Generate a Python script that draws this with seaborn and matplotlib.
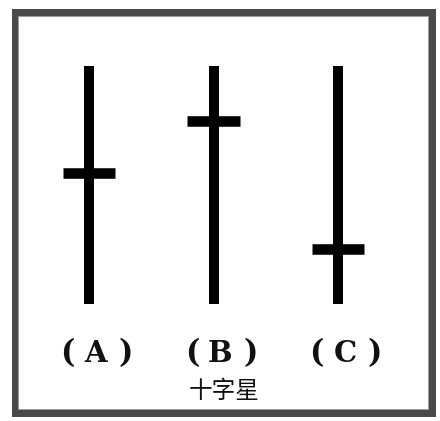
import matplotlib
matplotlib.use("Agg")
import matplotlib.pyplot as plt
import matplotlib.transforms as mtransforms
from matplotlib.patches import Rectangle
import seaborn as sns
import pandas as pd

# ---- data ----
letters = ['A', 'B', 'C']
labels = ['（A）', '（B）', '（C）']
high = [10, 10, 10]
low = [0, 0, 0]
cross = [5.5, 7.7, 2.3]
caption = '十字星'

df = pd.DataFrame({'letter': letters, 'label': labels, 'high': high,
                   'low': low, 'cross': cross})
df['pos'] = range(len(df))

sns.set_theme(style="white")
plt.rcParams['font.family'] = ['Noto Sans CJK SC', 'DejaVu Sans']

W, H = 440, 421
fig = plt.figure(figsize=(W / 100, H / 100), dpi=100)
fig.patch.set_facecolor('white')

ax = fig.add_axes([26.75 / W, (H - 304) / H, 373.5 / W, 238 / H])
ax.set_xlim(-0.5, 2.5)
ax.set_ylim(0, 10)
ax.axis('off')

# candle shadows
ax.vlines(df['pos'], df['low'], df['high'], colors='black', linewidth=7.2,
          capstyle='butt')
# doji crosses
ax.hlines(df['cross'], df['pos'] - 0.209, df['pos'] + 0.209, colors='black',
          linewidth=7.6, capstyle='butt')

# category labels: （ letter ）
trans = mtransforms.blended_transform_factory(ax.transData, fig.transFigure)
ylab = 1 - 353 / H
for p, lab in zip(df['pos'], df['label']):
    letter = lab[1:-1]
    ax.text(p - 0.173, ylab - 0.002, '(', transform=trans, ha='center',
            va='center', fontsize=22, fontweight='bold',
            family=['DejaVu Serif'], color='#111111')
    ax.text(p + 0.056, ylab, letter, transform=trans, ha='center',
            va='center', fontsize=21, fontweight='bold',
            family=['DejaVu Serif'], color='#111111')
    ax.text(p + 0.297, ylab - 0.002, ')', transform=trans, ha='center',
            va='center', fontsize=22, fontweight='bold',
            family=['DejaVu Serif'], color='#111111')

fig.text(224 / W, 1 - 391 / H, caption, ha='center', va='center',
         fontsize=17, color='#111111', fontweight='light',
         family=['Noto Sans CJK SC', 'DejaVu Sans'])

# frame
fig.patches.append(Rectangle((14.5 / W, 1 - 413 / H), (432 - 14.5) / W,
                             (413 - 11.5) / H, transform=fig.transFigure,
                             fill=False, edgecolor='#4a4a4a', linewidth=5.04,
                             joinstyle='miter'))
fig.patches.append(Rectangle((18 / W, 1 - 408.5 / H), (427.5 - 18) / W,
                             (408.5 - 15.5) / H, transform=fig.transFigure,
                             fill=False, edgecolor='#9a9a9a', linewidth=0.7))

fig.savefig('out.png', dpi=100, facecolor='white')
